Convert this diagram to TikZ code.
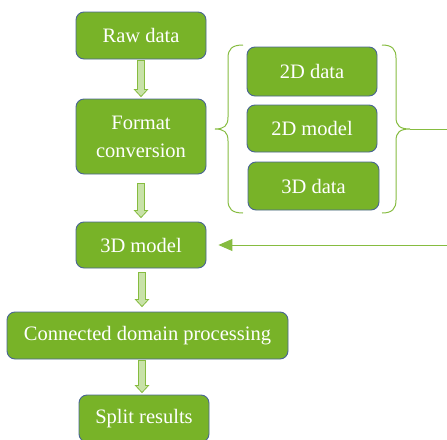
\documentclass[tikz,border=0pt]{standalone}
\usepackage{fontspec}
\setmainfont{Liberation Serif}
\usetikzlibrary{calc,arrows.meta}
\definecolor{boxgreen}{HTML}{78B328}
\definecolor{boxedge}{HTML}{4A6594}
\definecolor{linegreen}{HTML}{86BC40}
\definecolor{arrowfill}{HTML}{C8E2A8}
\tikzset{
  stage/.style={draw=boxedge, line width=0.9pt, fill=boxgreen, rounded corners=8pt,
    text=white, font=\fontsize{20.5}{28}\selectfont, align=center, inner sep=0pt},
  fatarrow/.style={draw=linegreen, fill=arrowfill, line width=0.8pt,
    to path={let \p1=(\tikztostart), \p2=(\tikztotarget) in
      (\x1-3.5pt,\y1) -- (\x1+3.5pt,\y1) -- (\x1+3.5pt,\y2+7pt) -- (\x1+6.5pt,\y2+7pt)
      -- (\x1,\y2) -- (\x1-6.5pt,\y2+7pt) -- (\x1-3.5pt,\y2+7pt) -- cycle}},
  bracel/.style={draw=linegreen, line width=1pt}
}
\begin{document}
\begin{tikzpicture}[x=1pt,y=-1pt]
\useasboundingbox (0,0) rectangle (447,439);
\node[stage, minimum width=130pt, minimum height=47pt] (raw) at (141,35.5) {Raw data};
\node[stage, minimum width=130pt, minimum height=75pt] (fmt) at (141,136.5) {Format\\conversion};
\node[stage, minimum width=130pt, minimum height=49pt] (d2) at (312,71.5) {2D data};
\node[stage, minimum width=130pt, minimum height=47pt] (m2) at (312,128.5) {2D model};
\node[stage, minimum width=131pt, minimum height=48pt] (d3) at (313.5,186) {3D data};
\node[stage, minimum width=130pt, minimum height=46pt] (m3) at (141,245) {3D model};
\node[stage, minimum width=281pt, minimum height=47pt] (cdp) at (147.5,335.5) {Connected domain processing};
\node[stage, minimum width=130pt, minimum height=47pt] (split) at (144,418.5) {Split results};

\path[fatarrow] ([yshift=-1pt]raw.south) to ([yshift=2pt]fmt.north);
\path[fatarrow] ([yshift=-9pt]fmt.south) to ([yshift=4pt]m3.north);
\path[fatarrow] ([xshift=1pt,yshift=-4pt]m3.south) to ([xshift=1pt,yshift=5pt]cdp.north -| m3.south);
\path[fatarrow] ([xshift=1pt,yshift=-1pt]cdp.south -| m3.south) to ([xshift=1pt,yshift=2pt]split.north -| m3.south);

% left brace
\coordinate (lbtip) at (215,129);
\draw[bracel] (243,45) .. controls (232,45) and (228,49) .. (228,58) -- (228,117)
  .. controls (228,126) and (224,129) .. (lbtip)
  .. controls (224,129) and (228,132) .. (228,141) -- (228,200)
  .. controls (228,209) and (232,213) .. (243,213);
% right brace
\coordinate (rbtip) at (410,129);
\draw[bracel] (382,45) .. controls (392,45) and (396,49) .. (396,58) -- (396,117)
  .. controls (396,126) and (400,129) .. (rbtip)
  .. controls (400,129) and (396,132) .. (396,141) -- (396,200)
  .. controls (396,209) and (392,213) .. (382,213);
% feedback connector
\coordinate (edge) at (452,129);
\draw[bracel, -{Triangle[length=14pt,width=12pt]}] (rbtip) -- (edge) |- ([xshift=12pt]m3.east);
\end{tikzpicture}
\end{document}
